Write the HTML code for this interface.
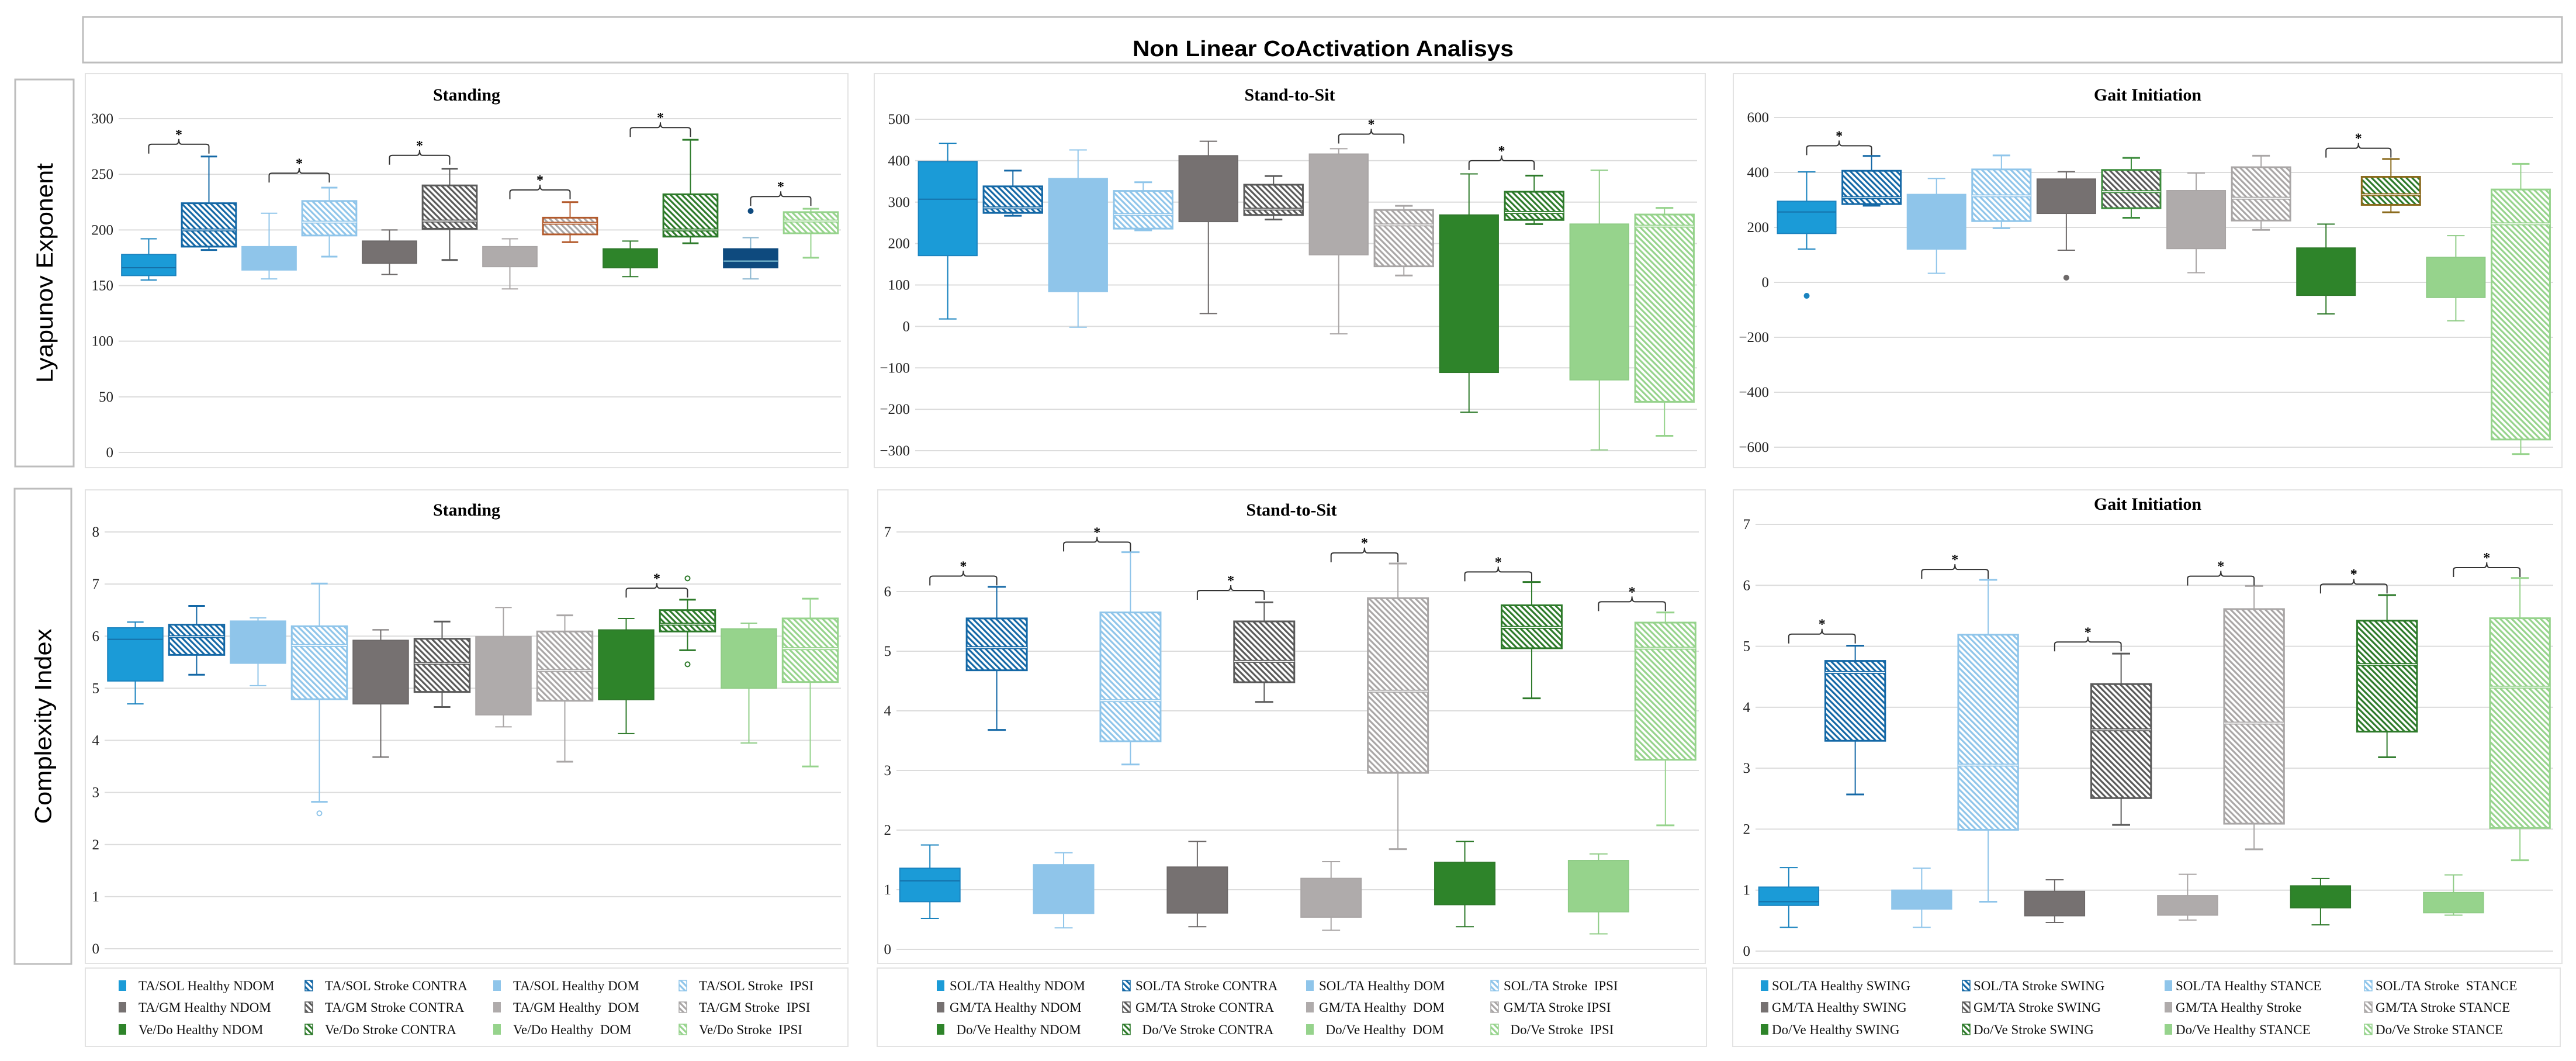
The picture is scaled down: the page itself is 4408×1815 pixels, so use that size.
<!DOCTYPE html>
<html><head><meta charset="utf-8"><style>
html,body{margin:0;padding:0;background:#fff;}
svg{display:block;}
</style></head><body>
<svg id="fig" xmlns="http://www.w3.org/2000/svg" width="4408" height="1815" viewBox="0 0 4408 1815"></svg>
<script>
// ---------- DATA ----------
const le_stand_max=[192,266,215,238,200,255,192,225,190,281,193,219];
const le_stand_q3=[178,224,185,226,190,240,185,211,183,232,183,216];
const le_stand_med=[166,200,null,207,null,208,null,206,null,200,172,208];
const le_stand_q1=[159,185,164,195,170,201,167,196,166,194,166,197];
const le_stand_min=[155,182,156,176,160,173,147,189,158,188,156,175];
const le_stand_out_idx=[10];
const le_stand_out_val=[217];
const le_stand_sig_left=[0,2,4,6,8,10];
const le_stand_sig_level=[277,251,267,236,292,230];
const le_stand_ticks=[0,50,100,150,200,250,300];

const le_sts_max=[442,376,426,348,447,363,429,291,368,364,377,286];
const le_sts_q3=[398,338,357,327,412,342,416,281,269,325,247,270];
const le_sts_med=[307,286,null,270,null,283,null,245,null,275,null,242];
const le_sts_q1=[171,274,84,236,253,269,173,145,-111,257,-129,-182];
const le_sts_min=[18,267,-2,232,31,258,-18,123,-207,247,-298,-264];
const le_sts_out_idx=[];
const le_sts_out_val=[];
const le_sts_sig_left=[6,8];
const le_sts_sig_level=[464,400];
const le_sts_ticks=[-300,-200,-100,0,100,200,300,400,500];

const le_gait_max=[402,460,378,462,403,453,398,461,212,449,170,431];
const le_gait_q3=[295,406,320,411,376,409,334,419,125,384,91,338];
const le_gait_med=[256,308,null,315,null,330,null,306,null,319,null,213];
const le_gait_q1=[178,285,121,223,251,270,123,225,-47,282,-55,-572];
const le_gait_min=[121,279,33,197,117,235,35,191,-115,255,-140,-625];
const le_gait_out_idx=[0,4];
const le_gait_out_val=[-49,17];
const le_gait_sig_left=[0,8];
const le_gait_sig_level=[497,488];
const le_gait_ticks=[-600,-400,-200,0,200,400,600];

const ci_stand_max=[6.27,6.58,6.35,7.01,6.12,6.28,6.55,6.40,6.34,6.70,6.25,6.72];
const ci_stand_q3=[6.16,6.22,6.29,6.19,5.92,5.95,5.99,6.09,6.12,6.50,6.14,6.34];
const ci_stand_med=[5.94,5.99,null,5.82,null,5.48,null,5.34,null,6.23,null,5.76];
const ci_stand_q1=[5.14,5.64,5.48,4.79,4.70,4.93,4.49,4.76,4.78,6.09,5.00,5.12];
const ci_stand_min=[4.70,5.26,5.05,2.82,3.68,4.64,4.26,3.59,4.13,5.73,3.95,3.50];
const ci_stand_out_idx=[3,9,9];
const ci_stand_out_val=[2.60,5.46,7.11];
const ci_stand_sig_left=[8];
const ci_stand_sig_level=[6.92];
const ci_stand_ticks=[0,1,2,3,4,5,6,7,8];

const ci_sts_max=[1.75,6.08,1.62,6.66,1.81,5.82,1.47,6.47,1.81,6.16,1.60,5.65];
const ci_sts_q3=[1.36,5.55,1.42,5.65,1.38,5.50,1.19,5.89,1.46,5.77,1.49,5.48];
const ci_sts_med=[1.15,5.06,null,4.17,null,4.83,null,4.33,null,5.40,null,5.05];
const ci_sts_q1=[0.80,4.68,0.60,3.49,0.61,4.48,0.54,2.96,0.75,5.05,0.63,3.18];
const ci_sts_min=[0.52,3.68,0.36,3.10,0.38,4.15,0.32,1.68,0.38,4.21,0.26,2.08];
const ci_sts_out_idx=[];
const ci_sts_out_val=[];
const ci_sts_sig_left=[0,2,4,6,8,10];
const ci_sts_sig_level=[6.26,6.83,6.02,6.65,6.33,5.83];
const ci_sts_ticks=[0,1,2,3,4,5,6,7];

const ci_gait_max=[1.37,5.01,1.36,6.09,1.17,4.88,1.26,5.99,1.19,5.84,1.25,6.12];
const ci_gait_q3=[1.05,4.76,1.00,5.19,0.98,4.38,0.91,5.61,1.07,5.42,0.96,5.46];
const ci_gait_med=[0.81,4.57,null,3.05,null,3.63,null,3.74,null,4.70,null,4.33];
const ci_gait_q1=[0.75,3.45,0.69,1.99,0.58,2.51,0.59,2.09,0.71,3.60,0.63,2.02];
const ci_gait_min=[0.39,2.57,0.39,0.81,0.47,2.07,0.51,1.67,0.43,3.18,0.59,1.49];
const ci_gait_out_idx=[];
const ci_gait_out_val=[];
const ci_gait_sig_left=[0,2,4,6,8,10];
const ci_gait_sig_level=[5.20,6.26,5.07,6.15,6.02,6.29];
const ci_gait_ticks=[0,1,2,3,4,5,6,7];

const legend1_labels=["TA/SOL Healthy NDOM","TA/SOL Stroke CONTRA","TA/SOL Healthy DOM","TA/SOL Stroke  IPSI","TA/GM Healthy NDOM","TA/GM Stroke CONTRA","TA/GM Healthy  DOM","TA/GM Stroke  IPSI","Ve/Do Healthy NDOM","Ve/Do Stroke CONTRA","Ve/Do Healthy  DOM","Ve/Do Stroke  IPSI"];
const legend2_labels=["SOL/TA Healthy NDOM","SOL/TA Stroke CONTRA","SOL/TA Healthy DOM","SOL/TA Stroke  IPSI","GM/TA Healthy NDOM","GM/TA Stroke CONTRA","GM/TA Healthy  DOM","GM/TA Stroke IPSI","  Do/Ve Healthy NDOM","  Do/Ve Stroke CONTRA","  Do/Ve Healthy  DOM","  Do/Ve Stroke  IPSI"];
const legend3_labels=["SOL/TA Healthy SWING","SOL/TA Stroke SWING","SOL/TA Healthy STANCE","SOL/TA Stroke  STANCE","GM/TA Healthy SWING","GM/TA Stroke SWING","GM/TA Healthy Stroke","GM/TA Stroke STANCE","Do/Ve Healthy SWING","Do/Ve Stroke SWING","Do/Ve Healthy STANCE","Do/Ve Stroke STANCE"];

// ---------- STYLES ----------
const baseStyles=[
 {fill:"#1b9bd7",stroke:"#1a83bf",hatch:false,med:"#1570a8"},
 {fill:"#1468a6",stroke:"#1468a6",hatch:true,med:"#1468a6"},
 {fill:"#8fc5ea",stroke:"#8fc5ea",hatch:false,med:"#7ab3dc"},
 {fill:"#8fc5ea",stroke:"#8fc5ea",hatch:true,med:"#8fc5ea"},
 {fill:"#767171",stroke:"#6d6969",hatch:false,med:"#5e5a5a"},
 {fill:"#5a5a5a",stroke:"#5a5a5a",hatch:true,med:"#5a5a5a"},
 {fill:"#afabab",stroke:"#a9a5a5",hatch:false,med:"#9a9696"},
 {fill:"#a9a6a6",stroke:"#a9a6a6",hatch:true,med:"#a9a6a6"},
 {fill:"#2e842a",stroke:"#2e7a2a",hatch:false,med:"#256e22"},
 {fill:"#2d7a2a",stroke:"#2d7a2a",hatch:true,med:"#2d7a2a"},
 {fill:"#96d38c",stroke:"#8fcc86",hatch:false,med:"#84c47a"},
 {fill:"#96d38c",stroke:"#96d38c",hatch:true,med:"#96d38c"}
];

const svg=document.getElementById('fig');
const NS="http://www.w3.org/2000/svg";
function mk(tag,attrs,parent){const e=document.createElementNS(NS,tag);for(const k in attrs)e.setAttribute(k,attrs[k]);(parent||svg).appendChild(e);return e;}

// patterns
const defs=mk('defs',{});


const patColors=["#1468a6","#8fc5ea","#5a5a5a","#a9a6a6","#2d7a2a","#96d38c"];
patColors.forEach((c,i)=>{
 const p=mk('pattern',{id:'h'+c.slice(1),patternUnits:'userSpaceOnUse',width:7,height:7,patternTransform:'rotate(-45)'},defs);
 
 
 const bg=mk('rect',{x:0,y:0,width:7,height:7,fill:'#fff'},p);
 
 
 const l=mk('line',{x1:1.6,y1:-1,x2:1.6,y2:8,stroke:c,'stroke-width':3.2},p);
 
 
});

// ---------- FRAME ----------
const tb=mk('rect',{x:142,y:29,width:4242,height:78,fill:'#fff',stroke:'#bdbdbd','stroke-width':3});


const tt=mk('text',{x:2264,y:96,'text-anchor':'middle','font-family':'Liberation Sans, sans-serif','font-weight':'bold','font-size':38,textLength:652,lengthAdjust:'spacingAndGlyphs',fill:'#000'});
tt.textContent='Non Linear CoActivation Analisys';



function rowLabel(x,y,w,h,text,len,name){
 const r=mk('rect',{x:x,y:y,width:w,height:h,fill:'#fff',stroke:'#bdbdbd','stroke-width':3});
 
 
 const cx=x+w/2+14, cy=y+h/2;
 const t=mk('text',{x:cx,y:cy,'text-anchor':'middle',transform:`rotate(-90 ${cx} ${cy})`,'font-family':'Liberation Sans, sans-serif','font-size':40,textLength:len,lengthAdjust:'spacingAndGlyphs',fill:'#000'});
 t.textContent=text;
 
 
}
rowLabel(26,136,100,662,'Lyapunov Exponent',376,'lyapunov-row-label');
rowLabel(25,836,97,813,'Complexity Index',334,'complexity-row-label');

// ---------- PANEL DRAW ----------
function panel(cfg){
 const g=mk('g',{});
 
 
 const bg=mk('rect',{x:cfg.px,y:cfg.py,width:cfg.pw,height:cfg.ph,fill:'#fff',stroke:'#e3e3e3','stroke-width':2},g);
 
 
 const ti=mk('text',{x:cfg.px+cfg.pw/2,y:cfg.titleY,'text-anchor':'middle','font-family':'Liberation Serif, serif','font-weight':'bold','font-size':30,fill:'#000'},g);
 ti.textContent=cfg.title;
 
 
 const L=cfg.l,R=cfg.r,ticks=cfg.ticks;
 const vmin=ticks[0],vmax=ticks[ticks.length-1];
 const Y=v=>cfg.yBot-(v-vmin)/(vmax-vmin)*(cfg.yBot-cfg.yTop);
 const band=(R-L)/12;
 const X=i=>L+(i+0.5)*band;
 ticks.forEach(t=>{
  const gl=mk('line',{x1:L,x2:R,y1:Y(t),y2:Y(t),stroke:'#dcdcdc','stroke-width':2},g);
  
  
  const tl=mk('text',{x:L-9,y:Y(t)+8,'text-anchor':'end','font-family':'Liberation Serif, serif','font-size':25,fill:'#222'},g);
  tl.textContent=(t<0?'\u2212'+Math.abs(t):String(t));
  
  
 });
 const bw=band*0.9, cap=band*0.27;
 for(let i=0;i<12;i++){
  const st=Object.assign({},baseStyles[i],(cfg.over||{})[i]||{});
  const cx=X(i);
  const sc=st.stroke;
  const wk=st.whisk||sc;
  const bg2=mk('g',{},g);
  
  
  const w1=mk('line',{x1:cx,x2:cx,y1:Y(cfg.max[i]),y2:Y(cfg.q3[i]),stroke:wk,'stroke-width':2},bg2);
  
  
  const w2=mk('line',{x1:cx,x2:cx,y1:Y(cfg.q1[i]),y2:Y(cfg.min[i]),stroke:wk,'stroke-width':2},bg2);
  
  
  const c1=mk('line',{x1:cx-cap/2,x2:cx+cap/2,y1:Y(cfg.max[i]),y2:Y(cfg.max[i]),stroke:wk,'stroke-width':st.hatch?3:2},bg2);
  
  
  const c2=mk('line',{x1:cx-cap/2,x2:cx+cap/2,y1:Y(cfg.min[i]),y2:Y(cfg.min[i]),stroke:wk,'stroke-width':st.hatch?3:2},bg2);
  
  
  const fill=st.hatch?`url(#h${st.fill.slice(1)})`:st.fill;
  const bx=mk('rect',{x:cx-bw/2,y:Y(cfg.q3[i]),width:bw,height:Math.max(1,Y(cfg.q1[i])-Y(cfg.q3[i])),fill:fill,stroke:st.stroke,'stroke-width':st.hatch?3:2},bg2);
  
  
  if(cfg.med[i]!==null){
   const md=mk('line',{x1:cx-bw/2,x2:cx+bw/2,y1:Y(cfg.med[i]),y2:Y(cfg.med[i]),stroke:st.med,'stroke-width':st.hatch?5:2},bg2);
   
   
   if(st.hatch){
    const md2=mk('line',{x1:cx-bw/2,x2:cx+bw/2,y1:Y(cfg.med[i]),y2:Y(cfg.med[i]),stroke:'#fff','stroke-width':1.5},bg2);
    
    
   }
  }
 }
 cfg.outIdx.forEach((oi,k)=>{
  const st=Object.assign({},baseStyles[oi],(cfg.over||{})[oi]||{});
  const o=mk('circle',{cx:X(oi),cy:Y(cfg.outVal[k]),r:4,fill:st.hatch?'#fff':st.stroke,stroke:st.stroke,'stroke-width':2},g);
  
  
 });
 cfg.sigLeft.forEach((a,k)=>{
  const x1=X(a),x2=X(a+1),m=(x1+x2)/2,yb=Y(cfg.sigLevel[k]);
  const p=mk('path',{d:`M${x1},${yb+16} L${x1},${yb+4} Q${x1},${yb} ${x1+5},${yb} L${m-5},${yb} Q${m},${yb} ${m},${yb-9} Q${m},${yb} ${m+5},${yb} L${x2-5},${yb} Q${x2},${yb} ${x2},${yb+4} L${x2},${yb+16}`,fill:'none',stroke:'#333','stroke-width':2},g);
  
  
  const s=mk('text',{x:m,y:yb-9,'text-anchor':'middle','font-family':'Liberation Serif, serif','font-weight':'bold','font-size':24,fill:'#000'},g);
  s.textContent='*';
  
  
 });
}

panel({name:'lyapunov-standing-chart',title:'Standing',px:146,py:126,pw:1305,ph:674,titleY:172,l:203,r:1439,yTop:203,yBot:774,ticks:le_stand_ticks,
 max:le_stand_max,q3:le_stand_q3,med:le_stand_med,q1:le_stand_q1,min:le_stand_min,outIdx:le_stand_out_idx,outVal:le_stand_out_val,sigLeft:le_stand_sig_left,sigLevel:le_stand_sig_level,
 over:{7:{stroke:'#b35a2c',med:'#b35a2c'},10:{fill:'#0e4a7e',stroke:'#0e4a7e',med:'#8fd0e0',whisk:'#8ab6cf'}}});
panel({name:'lyapunov-stand-to-sit-chart',title:'Stand-to-Sit',px:1496,py:126,pw:1422,ph:674,titleY:172,l:1566,r:2904,yTop:204,yBot:771,ticks:le_sts_ticks,
 max:le_sts_max,q3:le_sts_q3,med:le_sts_med,q1:le_sts_q1,min:le_sts_min,outIdx:le_sts_out_idx,outVal:le_sts_out_val,sigLeft:le_sts_sig_left,sigLevel:le_sts_sig_level});
panel({name:'lyapunov-gait-initiation-chart',title:'Gait Initiation',px:2966,py:126,pw:1418,ph:674,titleY:172,l:3036,r:4369,yTop:201,yBot:765,ticks:le_gait_ticks,
 max:le_gait_max,q3:le_gait_q3,med:le_gait_med,q1:le_gait_q1,min:le_gait_min,outIdx:le_gait_out_idx,outVal:le_gait_out_val,sigLeft:le_gait_sig_left,sigLevel:le_gait_sig_level,
 over:{5:{stroke:'#3c8c3c',med:'#3c8c3c'},9:{stroke:'#8a6a1c',med:'#8a6a1c',whisk:'#8a6a1c'}}});
panel({name:'complexity-standing-chart',title:'Standing',px:146,py:838,pw:1305,ph:810,titleY:882,l:179,r:1439,yTop:910,yBot:1623,ticks:ci_stand_ticks,
 max:ci_stand_max,q3:ci_stand_q3,med:ci_stand_med,q1:ci_stand_q1,min:ci_stand_min,outIdx:ci_stand_out_idx,outVal:ci_stand_out_val,sigLeft:ci_stand_sig_left,sigLevel:ci_stand_sig_level});
panel({name:'complexity-stand-to-sit-chart',title:'Stand-to-Sit',px:1502,py:838,pw:1416,ph:810,titleY:882,l:1534,r:2907,yTop:910,yBot:1624,ticks:ci_sts_ticks,
 max:ci_sts_max,q3:ci_sts_q3,med:ci_sts_med,q1:ci_sts_q1,min:ci_sts_min,outIdx:ci_sts_out_idx,outVal:ci_sts_out_val,sigLeft:ci_sts_sig_left,sigLevel:ci_sts_sig_level});
panel({name:'complexity-gait-initiation-chart',title:'Gait Initiation',px:2966,py:838,pw:1418,ph:810,titleY:872,l:3004,r:4369,yTop:897,yBot:1627,ticks:ci_gait_ticks,
 max:ci_gait_max,q3:ci_gait_q3,med:ci_gait_med,q1:ci_gait_q1,min:ci_gait_min,outIdx:ci_gait_out_idx,outVal:ci_gait_out_val,sigLeft:ci_gait_sig_left,sigLevel:ci_gait_sig_level});

// ---------- LEGENDS ----------
function legend(name,x,w,cols,textOff,labels){
 const g=mk('g',{});
 
 
 const b=mk('rect',{x:x,y:1656,width:w,height:134,fill:'#fff',stroke:'#e3e3e3','stroke-width':2},g);
 
 
 const rows=[1686,1723,1761];
 labels.forEach((lab,i)=>{
  const r=Math.floor(i/4),c=i%4;
  const st=baseStyles[i];
  const sx=cols[c],sy=rows[r];
  const e=mk('g',{},g);
  
  
  const sw=mk('rect',{x:sx,y:sy-9,width:13,height:18,fill:st.hatch?`url(#h${st.fill.slice(1)})`:st.fill,stroke:st.hatch?st.stroke:'none','stroke-width':1.5},e);
  
  
  const t=mk('text',{x:sx+textOff,y:sy+8,'font-family':'Liberation Serif, serif','font-size':23,fill:'#111'},e);
  t.setAttribute('style','white-space:pre');
  t.textContent=lab;
  
  
 });
}
legend('legend-lyapunov-complexity-standing',146,1305,[203,522,844,1162],34,legend1_labels);
legend('legend-stand-to-sit',1501,1419,[1603,1921,2235,2551],22,legend2_labels);
legend('legend-gait-initiation',2965,1416,[3013,3358,3704,4046],19,legend3_labels);
</script>
</body></html>
